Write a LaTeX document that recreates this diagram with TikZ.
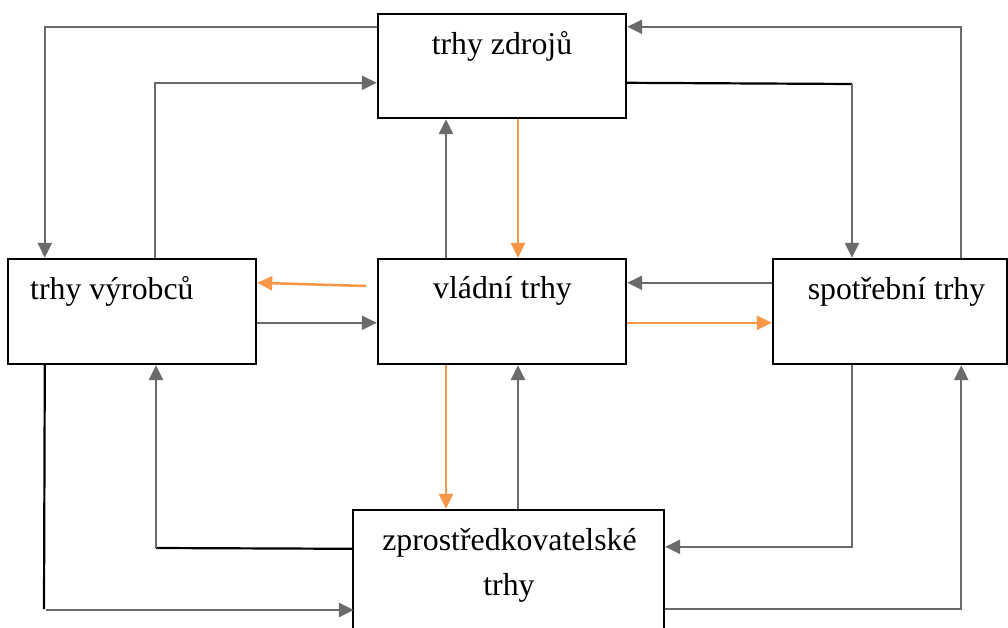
\documentclass[tikz,border=0pt]{standalone}
\usepackage{fontspec}
\setmainfont{Liberation Serif}
\usetikzlibrary{arrows.meta}
\definecolor{flowgray}{HTML}{6B6B6B}
\definecolor{floworange}{HTML}{F79646}
\begin{document}
\begin{tikzpicture}[x=1pt,y=-1pt,
  market/.style={draw=black,line width=2.4pt,inner sep=0pt,rectangle,fill=white},
  lbl/.style={anchor=base,inner sep=0pt,font=\fontsize{31.8}{38}\selectfont},
  tip/.style={-{Triangle[length=15pt,width=14pt]}},
  gr/.style={draw=flowgray,line width=2.5pt,tip},
  orng/.style={draw=floworange,line width=2.5pt,tip},
  bk/.style={draw=black,line width=2.2pt}]
\useasboundingbox (0,0) rectangle (1008,628);
\clip (0,0) rectangle (1008,628);
\fill[white] (0,0) rectangle (1008,628);

% market boxes
\node[market,minimum width=248pt,minimum height=104pt] (top) at (502,66) {};
\node[market,minimum width=248pt,minimum height=105pt] (left) at (132,311.5) {};
\node[market,minimum width=248pt,minimum height=105pt] (mid) at (502,311.5) {};
\node[market,minimum width=234pt,minimum height=105pt] (right) at (890,311.5) {};
\node[market,minimum width=311pt,minimum height=150pt] (bot) at (508.5,585) {};

% labels
\node[lbl] (ttop) at (502,55) {trhy zdrojů};
\node[lbl,anchor=base west] (tleft) at (30,299) {trhy výrobců};
\node[lbl] (tmid) at (502.5,298) {vládní trhy};
\node[lbl] (tright) at (896.5,299) {spotřební trhy};
\node[lbl] (tbot1) at (509.5,550) {zprostředkovatelské};
\node[lbl] (tbot2) at (509,595) {trhy};

% helper points
\coordinate (c3) at (852,84);
\coordinate (o6) at (366,286);
\coordinate (c11) at (44,609);
\coordinate (c12) at (156,548);

% outer loop
\draw[gr] ([yshift=-14pt]top.north west) -| ([xshift=38pt]left.north west);
\draw[gr] ([xshift=148pt]left.north west) |- ([yshift=-70pt]top.north west);
\draw[bk] ([yshift=-70pt]top.north east) -- (c3);
\draw[gr] (c3) -- (c3 |- right.north);
\draw[gr] ([xshift=-47pt]right.north east) |- ([yshift=-14pt]top.north east);

% vertical links around the centre
\draw[gr] ([xshift=-56pt]mid.north) -- ([xshift=-56pt]top.south);
\draw[orng] ([xshift=16pt]top.south) -- ([xshift=16pt]mid.north);
\draw[orng] ([xshift=-56pt]mid.south) -- ([xshift=-56pt]mid.south |- bot.north);
\draw[gr] ([xshift=16pt]mid.south |- bot.north) -- ([xshift=16pt]mid.south);

% horizontal links around the centre
\draw[orng] (o6) -- ([yshift=-25pt]left.north east);
\draw[gr] ([yshift=-65pt]left.north east) -- ([yshift=-65pt]mid.north west);
\draw[gr] ([yshift=-25pt]right.north west) -- ([yshift=-25pt]mid.north east);
\draw[orng] ([yshift=-65pt]mid.north east) -- ([yshift=-65pt]right.north west);

% lower loop
\draw[bk] ([xshift=38pt]left.south west) -- (c11);
\draw[gr] ([xshift=2pt,yshift=-1pt]c11) -- ([xshift=2pt,yshift=-1pt]c11 -| bot.west);
\draw[bk] ([yshift=-40pt]bot.north west) -- (c12);
\draw[gr] (c12) -- (c12 |- left.south);
\draw[gr] ([xshift=-38pt]right.south) |- ([yshift=-38pt]bot.north east);
\draw[gr] ([yshift=-100pt]bot.north east) -| ([xshift=-47pt]right.south east);
\end{tikzpicture}
\end{document}
